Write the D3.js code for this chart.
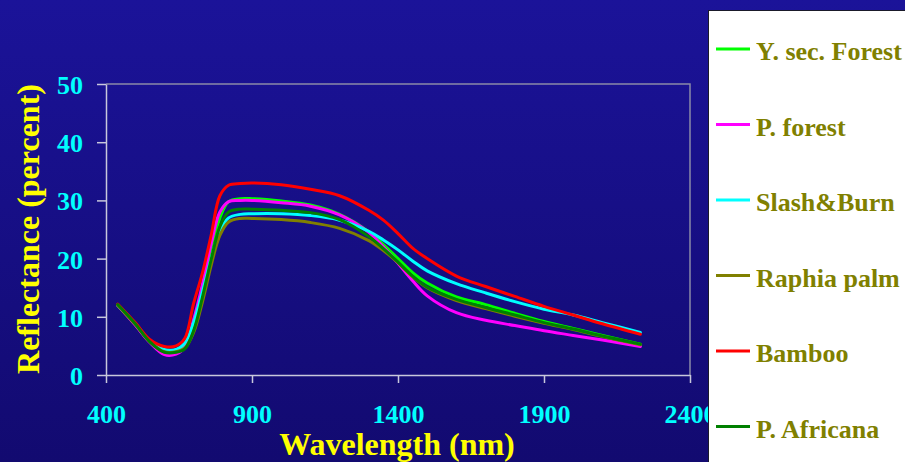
<!DOCTYPE html>
<html>
<head>
<meta charset="utf-8">
<script src="https://cdn.jsdelivr.net/npm/d3@7"></script>
<style>
  html, body { margin: 0; padding: 0; overflow: hidden; }
  svg { display: block; }
</style>
</head>
<body>
<svg id="chart" width="905" height="462"></svg>
<script>
// ---- data ----
const wavelengths = [440, 500, 550, 600, 640, 670, 700, 730, 760, 790, 820, 860, 900, 1000, 1100, 1200, 1300, 1350, 1400, 1450, 1500, 1600, 1700, 1800, 1900, 2000, 2100, 2230];

const ySecForest = [12.0, 8.7, 5.7, 4.1, 4.1, 5.2, 8.8, 14.5, 21.0, 27.0, 29.8, 30.3, 30.3, 29.9, 29.2, 27.6, 24.6, 22.4, 20.0, 17.6, 15.8, 13.4, 12.1, 10.6, 9.2, 8.0, 6.8, 5.3];
const pForest    = [12.0, 8.6, 5.6, 3.5, 3.6, 4.8, 9.5, 15.5, 22.5, 28.0, 29.8, 30.0, 30.0, 29.6, 29.0, 27.5, 24.5, 22.0, 19.2, 16.2, 13.6, 10.7, 9.4, 8.5, 7.6, 6.8, 6.0, 4.9];
const slashBurn  = [12.0, 8.8, 5.8, 4.4, 4.4, 5.5, 9.0, 14.3, 20.0, 24.8, 27.0, 27.6, 27.7, 27.7, 27.4, 26.6, 24.7, 23.2, 21.5, 19.6, 17.9, 15.7, 14.1, 12.6, 11.3, 10.3, 9.0, 7.3];
const raphiaPalm = [12.0, 8.7, 5.7, 4.0, 4.0, 4.6, 7.3, 12.5, 18.8, 24.0, 26.3, 26.9, 26.9, 26.7, 26.2, 25.2, 23.1, 21.4, 19.3, 16.9, 15.0, 12.8, 11.4, 10.1, 8.9, 7.8, 6.6, 5.2];
const bamboo     = [12.2, 9.0, 6.1, 4.9, 5.0, 6.3, 12.3, 17.5, 24.0, 30.8, 32.6, 32.9, 33.0, 32.7, 31.9, 30.8, 28.3, 26.6, 24.3, 21.8, 20.0, 17.0, 15.2, 13.5, 11.8, 10.3, 8.8, 7.0];
const pAfricana  = [12.1, 8.8, 5.7, 3.9, 3.9, 4.5, 7.6, 13.3, 19.8, 25.5, 28.0, 28.5, 28.5, 28.3, 27.9, 26.7, 23.8, 21.7, 19.4, 17.0, 15.1, 13.0, 11.6, 10.3, 9.0, 7.9, 6.7, 5.3];

const seriesNames  = ["Y. sec. Forest", "P. forest", "Slash&Burn", "Raphia palm", "Bamboo", "P. Africana"];
const seriesValues = [ySecForest, pForest, slashBurn, raphiaPalm, bamboo, pAfricana];
const seriesColors = ["#00ff00", "#ff00ff", "#00ffff", "#808000", "#ff0000", "#008000"];

const xTicks = [400, 900, 1400, 1900, 2400];
const yTicks = [0, 10, 20, 30, 40, 50];

// ---- layout ----
const svg = d3.select("#chart");
const W = 905, H = 462;
const plot = { left: 106, right: 690, top: 84, bottom: 375 };
const font = "'Liberation Serif', 'Times New Roman', serif";

const defs = svg.append("defs");
const grad = defs.append("linearGradient").attr("id", "bg").attr("x1", 0).attr("y1", 0).attr("x2", 0).attr("y2", 1);
grad.append("stop").attr("offset", "0%").attr("stop-color", "#1b1399");
grad.append("stop").attr("offset", "100%").attr("stop-color", "#120a70");
svg.append("rect").attr("width", W).attr("height", H).attr("fill", "url(#bg)");

const x = d3.scaleLinear().domain([400, 2400]).range([plot.left, plot.right]);
const y = d3.scaleLinear().domain([0, 50]).range([plot.bottom, plot.top]);

// plot border (top & right)
svg.append("path")
  .attr("d", `M${plot.left},${plot.top}H${plot.right}V${plot.bottom}`)
  .attr("fill", "none").attr("stroke", "#8a8aa8").attr("stroke-width", 1.5);

// axes
const gx = svg.append("g").attr("transform", `translate(0,${plot.bottom})`)
  .call(d3.axisBottom(x).tickValues(xTicks).tickSize(8).tickSizeOuter(0).tickFormat(d3.format("d")));
const gy = svg.append("g").attr("transform", `translate(${plot.left},0)`)
  .call(d3.axisLeft(y).tickValues(yTicks).tickSize(9).tickSizeOuter(0).tickFormat(d3.format("d")));

[gx, gy].forEach(g => {
  g.select(".domain").attr("stroke", "#c8c8dc").attr("stroke-width", 1.5);
  g.selectAll(".tick line").attr("stroke", "#c8c8dc").attr("stroke-width", 1.5);
  g.selectAll(".tick text")
    .attr("fill", "#00ffff")
    .attr("font-family", font)
    .attr("font-weight", "bold")
    .attr("font-size", 26);
});
gx.selectAll(".tick text").attr("y", 48).attr("dy", 0);
gy.selectAll(".tick text").attr("x", -23).attr("dy", 9.5);

// lines
const line = d3.line()
  .x((d, i) => x(wavelengths[i]))
  .y(d => y(d))
  .curve(d3.curveCatmullRom.alpha(0.5));

seriesValues.forEach((vals, k) => {
  svg.append("path")
    .attr("d", line(vals))
    .attr("fill", "none")
    .attr("stroke", seriesColors[k])
    .attr("stroke-width", 3)
    .attr("stroke-linejoin", "round")
    .attr("stroke-linecap", "round");
});

// axis titles
svg.append("text")
  .attr("x", 397).attr("y", 455)
  .attr("text-anchor", "middle")
  .attr("fill", "#ffff00")
  .attr("font-family", font).attr("font-weight", "bold").attr("font-size", 32)
  .text("Wavelength (nm)");

svg.append("text")
  .attr("transform", "translate(38.5,229) rotate(-90)")
  .attr("text-anchor", "middle")
  .attr("fill", "#ffff00")
  .attr("font-family", font).attr("font-weight", "bold").attr("font-size", 32)
  .text("Reflectance (percent)");

// legend
const lg = svg.append("g");
lg.append("rect")
  .attr("x", 708.5).attr("y", 10.5).attr("width", 300).attr("height", 500)
  .attr("fill", "#ffffff").attr("stroke", "#1a1a2a").attr("stroke-width", 1);

seriesNames.forEach((name, k) => {
  const ly = 49 + k * 75.5;
  lg.append("line")
    .attr("x1", 716).attr("x2", 750).attr("y1", ly).attr("y2", ly)
    .attr("stroke", seriesColors[k]).attr("stroke-width", 3);
  lg.append("text")
    .attr("x", 756).attr("y", ly + 11)
    .attr("fill", "#808000")
    .attr("font-family", font).attr("font-weight", "bold").attr("font-size", 26)
    .text(name);
});
</script>
</body>
</html>
